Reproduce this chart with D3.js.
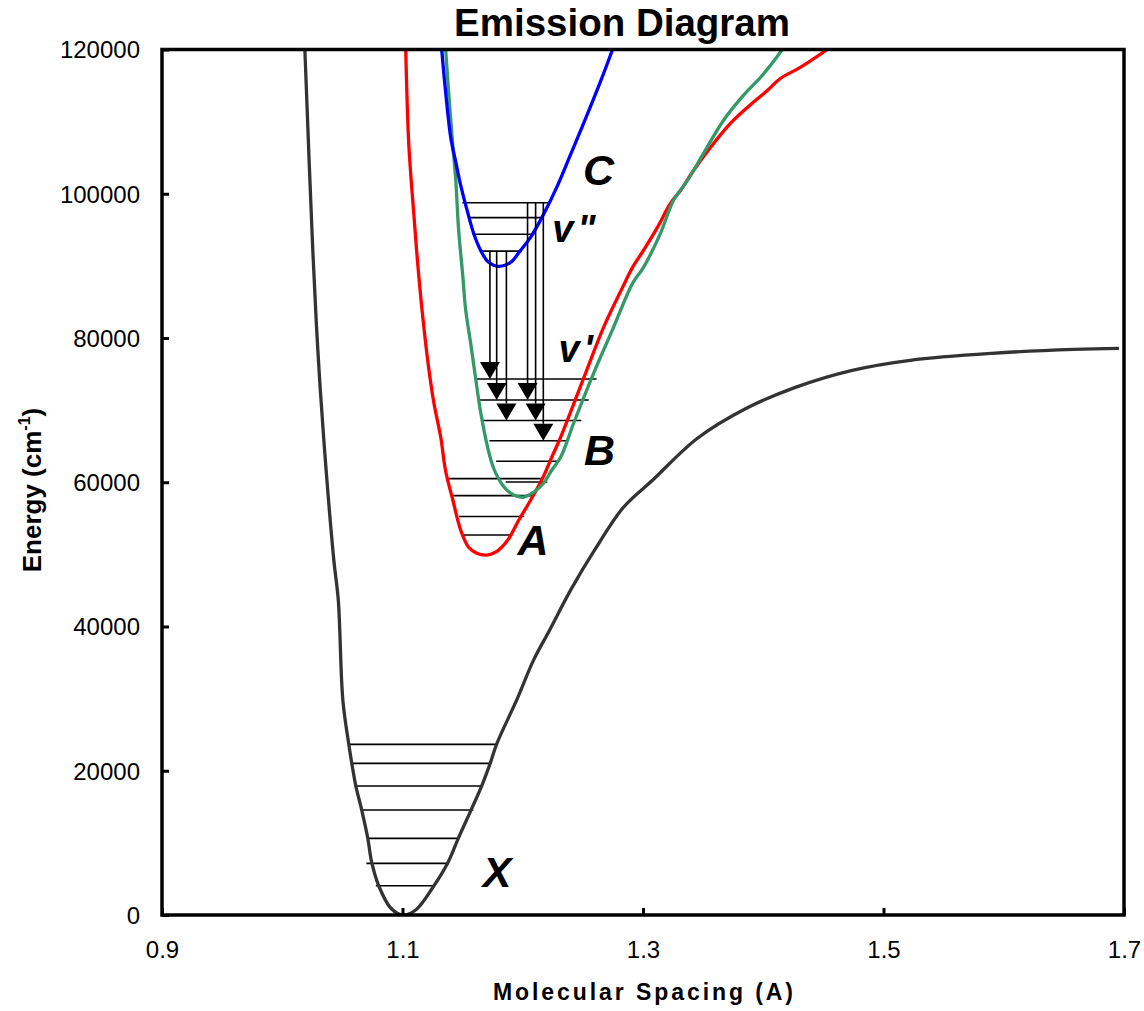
<!DOCTYPE html>
<html>
<head>
<meta charset="utf-8">
<script src="https://cdn.jsdelivr.net/npm/d3@7"></script>
<style>
  body { margin: 0; background: #fff; }
  svg { display: block; }
  text { font-family: Arial, "Liberation Sans", sans-serif; }
</style>
</head>
<body>
<svg id="chart"></svg>
<script>
//--potential curves (spacing in A, energy in cm-1)
const xV = [1.0188, 1.0254, 1.0296, 1.0346, 1.0429, 1.0466, 1.0504, 1.0553, 1.0578, 1.0612, 1.0661, 1.0711, 1.0745, 1.0803, 1.0902, 1.1,
            1.1110, 1.1260, 1.1376, 1.1465, 1.1570, 1.1658, 1.1730, 1.1783, 1.1949, 1.2090, 1.2223, 1.2398, 1.2597, 1.2838, 1.3079,
            1.3453, 1.3860, 1.4267, 1.4740, 1.5222, 1.5903, 1.6585, 1.6958];
const xE = [120000, 92150, 78300, 65820, 49190, 43650, 29790, 23700, 21060, 17880, 14550, 10670, 7210, 4020, 970, 0,
            690, 4020, 7210, 10670, 14550, 17880, 21060, 23700, 29790, 35340, 39490, 45040, 50580, 56540, 60280,
            66100, 70250, 73160, 75520, 76910, 77880, 78430, 78570];

const aV = [1.1027, 1.1052, 1.1093, 1.1127, 1.1168, 1.1218, 1.1260, 1.1318, 1.1359, 1.1417, 1.1484, 1.1550, 1.1617, 1.1700,
            1.1775, 1.1874, 1.1966, 1.2065, 1.2165, 1.2248, 1.2315, 1.2522, 1.2672, 1.2830, 1.2913, 1.3004, 1.3120, 1.3228,
            1.3312, 1.3420, 1.3561, 1.3727, 1.3868, 1.4034, 1.4142, 1.4308, 1.4533];
const aE = [120000, 106970, 97410, 90210, 83000, 75800, 71090, 66240, 61520, 57640, 53350, 50990, 50160, 49900,
            50300, 51960, 54730, 57510, 60550, 63740, 66240, 75100, 81480, 87020, 89790, 92150, 95340, 98660,
            100460, 103230, 106420, 109750, 111960, 114320, 115980, 117510, 120000];

const bV = [1.1359, 1.1384, 1.1417, 1.1442, 1.1467, 1.1501, 1.1525, 1.1567, 1.1608, 1.1650, 1.1708, 1.1758, 1.1833, 1.1899,
            1.1999, 1.2090, 1.2173, 1.2240, 1.2315, 1.2423, 1.2589, 1.2755, 1.2913, 1.3004, 1.3145, 1.3253, 1.3370, 1.3503,
            1.3669, 1.3835, 1.3976, 1.4059, 1.4159];
const bE = [120000, 114040, 106970, 102130, 94920, 88680, 83970, 79260, 74410, 69700, 64850, 61940, 59580, 58480,
            57920, 58610, 59860, 61660, 63460, 68180, 75100, 81480, 87580, 89790, 94500, 99080, 101850, 105590,
            110160, 113630, 116120, 117780, 120000];

const cV = [1.1326, 1.1359, 1.1401, 1.1442, 1.1484, 1.1542, 1.1592, 1.1650, 1.1716, 1.1800, 1.1899, 1.1982, 1.2065,
            1.2173, 1.2290, 1.2398, 1.2506, 1.2647, 1.2747];
const cE = [120000, 114040, 107810, 104480, 101160, 97410, 94500, 92150, 90490, 89930, 90490, 92150, 93950,
            97140, 101160, 105450, 109750, 115570, 120000];
//--

//--vibrational levels: energy, left and right ends
const xLevelE = [4060, 7160, 10630, 14550, 17880, 21020, 23650];
const xLevelL = [1.0778, 1.0700, 1.0709, 1.0653, 1.0603, 1.0576, 1.0553];
const xLevelR = [1.1262, 1.1373, 1.1456, 1.1589, 1.1658, 1.1739, 1.1775];

const aLevelE = [52680, 55260, 58140, 60500];
const aLevelL = [1.1511, 1.1470, 1.1415, 1.1368];
const aLevelR = [1.1913, 1.2010, 1.2090, 1.2163];

const bLevelE = [60030, 62910, 65750, 68560, 71400, 74310];
const bLevelL = [1.1858, 1.1779, 1.1723, 1.1664, 1.1643, 1.1608];
const bLevelR = [1.2204, 1.2287, 1.2370, 1.2487, 1.2549, 1.2614];

const cLevelE = [92040, 94380, 96690, 98760];
const cLevelL = [1.1650, 1.1581, 1.1552, 1.1498];
const cLevelR = [1.1993, 1.2093, 1.2155, 1.2222];
//--

//--emission arrows C -> B
const arrowV = [1.1727, 1.1783, 1.1864, 1.2040, 1.2107, 1.2171];
const arrowFrom = [92040, 92040, 92040, 98760, 98760, 98760];
const arrowTo = [74310, 71400, 68560, 71400, 68560, 65750];
//--

//--labels
const stateNames = ["X", "A", "B", "C"];
const stateLabelV = [1.1787, 1.2086, 1.2639, 1.2630];
const stateLabelE = [3920, 49880, 62360, 101160];
const quantumNames = ["v\"", "v'"];
const quantumV = [1.2246, 1.2298];
const quantumE = [93300, 76670];

const xTicks = [0.9, 1.1, 1.3, 1.5, 1.7];
const yTicks = [0, 20000, 40000, 60000, 80000, 100000, 120000];
//--

//--canvas
let width = 1144;
let height = 1011;
let plotLeft = 162, plotRight = 1124, plotTop = 49.5, plotBottom = 915;

let svg = d3.select("#chart")
    .attr("width", width)
    .attr("height", height);

svg.append("rect").attr("width", width).attr("height", height).attr("fill", "#fff");

let x = d3.scaleLinear().domain([0.9, 1.7]).range([plotLeft, plotRight]);
let y = d3.scaleLinear().domain([0, 120000]).range([plotBottom, plotTop]);

svg.append("clipPath").attr("id", "plot")
    .append("rect")
    .attr("x", plotLeft).attr("y", plotTop)
    .attr("width", plotRight - plotLeft).attr("height", plotBottom - plotTop);
//--

//--vibrational level lines
let levels = [
    [xLevelE, xLevelL, xLevelR],
    [aLevelE, aLevelL, aLevelR],
    [bLevelE, bLevelL, bLevelR],
    [cLevelE, cLevelL, cLevelR]
];

let levelG = svg.append("g").attr("stroke", "#000").attr("stroke-width", 1.6);
levels.forEach(([es, ls, rs]) => {
    levelG.selectAll(null)
        .data(d3.range(es.length))
        .enter()
        .append("line")
        .attr("x1", i => x(ls[i]))
        .attr("x2", i => x(rs[i]))
        .attr("y1", i => y(es[i]))
        .attr("y2", i => y(es[i]));
});
//--

//--curves
let line = d3.line()
    .x(d => x(d[0]))
    .y(d => y(d[1]))
    .curve(d3.curveCatmullRom.alpha(0.5));

let curves = [
    { pts: d3.zip(xV, xE), color: "#333333" },
    { pts: d3.zip(aV, aE), color: "#ff0000" },
    { pts: d3.zip(bV, bE), color: "#339966" },
    { pts: d3.zip(cV, cE), color: "#0000ff" }
];

svg.append("g")
    .attr("clip-path", "url(#plot)")
    .selectAll("path")
    .data(curves)
    .enter()
    .append("path")
    .attr("d", d => line(d.pts))
    .attr("fill", "none")
    .attr("stroke", d => d.color)
    .attr("stroke-width", 3.3)
    .attr("stroke-linejoin", "round");
//--

//--arrows
let head = 17, halfW = 10;
let arrowG = svg.append("g");
arrowG.selectAll("line")
    .data(d3.range(arrowV.length))
    .enter()
    .append("line")
    .attr("x1", i => x(arrowV[i]))
    .attr("x2", i => x(arrowV[i]))
    .attr("y1", i => y(arrowFrom[i]))
    .attr("y2", i => y(arrowTo[i]) - head)
    .attr("stroke", "#000")
    .attr("stroke-width", 1.6);

arrowG.selectAll("path")
    .data(d3.range(arrowV.length))
    .enter()
    .append("path")
    .attr("d", i => {
        let ax = x(arrowV[i]), ay = y(arrowTo[i]);
        return `M${ax - halfW},${ay - head}L${ax + halfW},${ay - head}L${ax},${ay}Z`;
    })
    .attr("fill", "#000");
//--

//--state and quantum number labels
svg.append("g")
    .selectAll("text")
    .data(stateNames)
    .enter()
    .append("text")
    .attr("x", (d, i) => x(stateLabelV[i]))
    .attr("y", (d, i) => y(stateLabelE[i]))
    .attr("text-anchor", "middle")
    .attr("font-size", 43)
    .attr("font-weight", "bold")
    .attr("font-style", "italic")
    .text(d => d);

svg.append("g")
    .selectAll("text")
    .data(quantumNames)
    .enter()
    .append("text")
    .attr("x", (d, i) => x(quantumV[i]))
    .attr("y", (d, i) => y(quantumE[i]))
    .attr("font-size", 38)
    .attr("font-weight", "bold")
    .attr("font-style", "italic")
    .attr("letter-spacing", 4)
    .text(d => d);
//--

//--axes (ticks point inwards, frame drawn separately)
let xAxis = svg.append("g")
    .attr("transform", `translate(0,${plotBottom})`)
    .call(d3.axisBottom(x).tickValues(xTicks).tickFormat(d3.format(".1f")).tickSizeInner(-7).tickSizeOuter(0));
xAxis.select(".domain").remove();
xAxis.selectAll("line").attr("stroke-width", 3);
xAxis.selectAll("text")
    .attr("y", 43)
    .attr("dy", 0)
    .attr("font-size", 24)
    .attr("font-family", "Arial, 'Liberation Sans', sans-serif")
    .attr("fill", "#000");

let yAxis = svg.append("g")
    .attr("transform", `translate(${plotLeft},0)`)
    .call(d3.axisLeft(y).tickValues(yTicks).tickFormat(d3.format("d")).tickSizeInner(-7).tickSizeOuter(0));
yAxis.select(".domain").remove();
yAxis.selectAll("line").attr("stroke-width", 3);
yAxis.selectAll("text")
    .attr("x", -22)
    .attr("dy", "0.35em")
    .attr("font-size", 24)
    .attr("font-family", "Arial, 'Liberation Sans', sans-serif")
    .attr("fill", "#000");

svg.append("rect")
    .attr("x", plotLeft).attr("y", plotTop)
    .attr("width", plotRight - plotLeft).attr("height", plotBottom - plotTop)
    .attr("fill", "none")
    .attr("stroke", "#000")
    .attr("stroke-width", 3.5);
//--

//--titles
svg.append("text")
    .attr("x", 622)
    .attr("y", 36)
    .attr("text-anchor", "middle")
    .attr("font-size", 38.5)
    .attr("font-weight", "bold")
    .text("Emission Diagram");

svg.append("text")
    .attr("x", 643)
    .attr("y", 1000)
    .attr("text-anchor", "middle")
    .attr("font-size", 23)
    .attr("font-weight", "bold")
    .attr("textLength", 300)
    .attr("lengthAdjust", "spacing")
    .text("Molecular Spacing (A)");

let yLab = svg.append("text")
    .attr("transform", "translate(41,490) rotate(-90)")
    .attr("text-anchor", "middle")
    .attr("font-size", 26)
    .attr("font-weight", "bold");
yLab.append("tspan").text("Energy (cm");
yLab.append("tspan").attr("font-size", 16).attr("dy", -11).text("-1");
yLab.append("tspan").attr("dy", 11).text(")");
//--
</script>
</body>
</html>
